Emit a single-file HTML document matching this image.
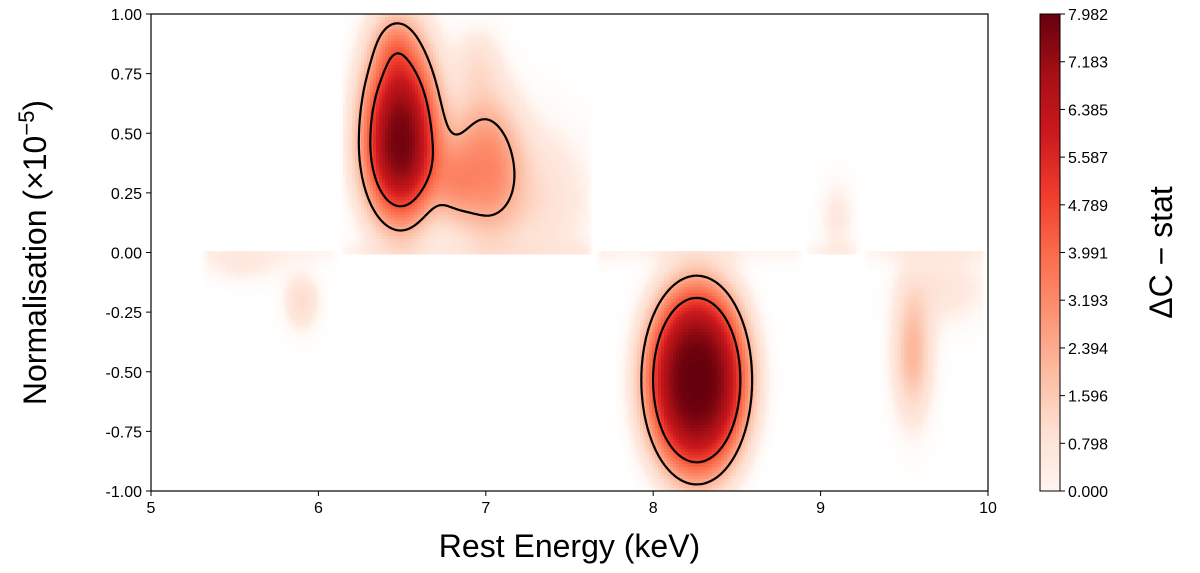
<!DOCTYPE html>
<html><head><meta charset="utf-8">
<style>
body{margin:0;background:#fff;width:1200px;height:573px;overflow:hidden;font-family:"Liberation Sans","DejaVu Sans",sans-serif;}
svg{position:absolute;left:0;top:0;}
</style></head>
<body>
<svg id="ax" width="1200" height="573" xmlns="http://www.w3.org/2000/svg">
<defs><linearGradient id="cbg" x1="0" y1="1" x2="0" y2="0">
<stop offset="0" stop-color="#fff5f0"/><stop offset="0.125" stop-color="#fee0d2"/><stop offset="0.25" stop-color="#fcbba1"/><stop offset="0.375" stop-color="#fc9272"/><stop offset="0.5" stop-color="#fb6a4a"/><stop offset="0.625" stop-color="#ef3b2c"/><stop offset="0.75" stop-color="#cb181d"/><stop offset="0.875" stop-color="#a50f15"/><stop offset="1" stop-color="#67000d"/>
</linearGradient></defs>
<g id="heat"></g>
<g id="cont"></g>
<rect x="1040" y="14" width="20" height="477" fill="url(#cbg)" stroke="#000" stroke-width="1"/>
</svg>
<script>
// ---- data ----
const xTicks=[5,6,7,8,9,10];
const yTicks=[1.00,0.75,0.50,0.25,0.00,-0.25,-0.50,-0.75,-1.00];
const cbTicks=["0.000","0.798","1.596","2.394","3.193","3.991","4.789","5.587","6.385","7.183","7.982"];
const cbMax=7.982;
const contourLevels=[2.3,4.6];
const blobE  =[6.49, 6.99, 7.3, 6.95, 8.26, 9.55, 9.75, 5.9, 5.55, 9.1, 6.45, 6.8];
const blobN  =[0.46,0.37, 0.22, 0.8, -0.535,-0.42,-0.15,-0.2,-0.06,0.15,0.88,0.27];
const blobA  =[7.8, 3.0,  1.0, 0.8, 8.0, 2.1, 0.7, 1.1, 0.5, 0.6, 0.9, 1.3];
const blobSE =[0.23,0.22, 0.3, 0.14, 0.31,0.11,0.25,0.1,0.25,0.1,0.12,0.12];
const blobSNu=[0.43,0.3,  0.3, 0.14, 0.41,0.26,0.15,0.1,0.07,0.15,0.12,0.17];
const blobSNd=[0.34,0.3,  0.3, 0.14, 0.41,0.26,0.15,0.12,0.07,0.15,0.12,0.15];
const blobP  =[1.3, 1.2,  1.0, 1.0, 1.7, 1.0, 1.0, 1.0, 1.0, 1.0, 1.0, 1.0];
const regionStart=[5.3,6.12,7.65,8.9,9.25];
const regionEnd  =[6.12,7.65,8.9,9.25,10.0];
const regionSign =[-1,1,-1,1,-1];

const X0=151,X1=988,Y0=14,Y1=491;
const xs=v=>X0+(v-5)/5*(X1-X0);
const ys=v=>Y0+(1-v)/2*(Y1-Y0);
const NS='http://www.w3.org/2000/svg';
const svg=document.getElementById('ax');

const reds=[[255,245,240],[254,224,210],[252,187,161],[252,146,114],[251,106,74],[239,59,44],[203,24,29],[165,15,21],[103,0,13]];
function cmap(t){t=Math.max(0,Math.min(1,t));const s=t*8,i=Math.min(7,Math.floor(s)),f=s-i;
return reds[i].map((c,k)=>Math.round(c+(reds[i+1][k]-c)*f));}

function field(en,nm){
  let sg=0,edge=1;
  for(let i=0;i<regionStart.length;i++) if(en>=regionStart[i]&&en<regionEnd[i]){
    sg=regionSign[i];const d=Math.min(en-regionStart[i],regionEnd[i]-en);edge=Math.min(1,d/0.04);}
  if(sg===0) return 0;
  if(nm*sg<-0.004) return 0;
  let v=0.3*Math.exp(-Math.pow(nm/0.05,2));
  for(let i=0;i<blobE.length;i++){
    const dx=(en-blobE[i])/blobSE[i];
    const dy=(nm-blobN[i])/(nm>blobN[i]?blobSNu[i]:blobSNd[i]);
    v+=blobA[i]*Math.exp(-Math.pow(dx*dx+dy*dy,blobP[i]));
  }
  return v*edge;
}
function mk(parent,t,a,txt){const el=document.createElementNS(NS,t);for(const k in a)el.setAttribute(k,a[k]);if(txt!==undefined)el.textContent=txt;parent.appendChild(el);return el;}

try{
const heat=document.getElementById('heat');
const CS=3, PW=X1-X0, PH=Y1-Y0;
const nx=Math.ceil(PW/CS), ny=Math.ceil(PH/CS);
let frag=document.createDocumentFragment();
for(let j=0;j<ny;j++){
  let runStart=0,runKey=null;
  const keys=[];
  for(let i=0;i<nx;i++){
    const en=5+((i+0.5)*CS)/PW*5, nm=1-((j+0.5)*CS)/PH*2;
    const v=field(en,nm);
    keys.push(v>0.03?Math.round(v/cbMax*160):-1);
  }
  keys.push(-2);
  for(let i=0;i<=nx;i++){
    if(runKey===null){runKey=keys[i];runStart=i;continue;}
    if(keys[i]!==runKey){
      if(runKey>=0){
        const vv=runKey/160*cbMax;
        let c=cmap(runKey/160);
        if(vv<0.5){const w=vv/0.5;c=c.map(q=>Math.round(255+(q-255)*w));}
        const r=document.createElementNS(NS,'rect');
        r.setAttribute('x',X0+runStart*CS);r.setAttribute('y',Y0+j*CS);
        r.setAttribute('width',Math.min((i-runStart)*CS,PW-runStart*CS)+0.5);
        r.setAttribute('height',Math.min(CS,PH-j*CS)+0.5);
        r.setAttribute('fill',`rgb(${c[0]},${c[1]},${c[2]})`);
        
        
        frag.appendChild(r);
      }
      runKey=keys[i];runStart=i;
    }
  }
}
heat.appendChild(frag);

const G=2, gx=Math.ceil(PW/G)+1, gy=Math.ceil(PH/G)+1;
const F=new Float32Array(gx*gy);
for(let j=0;j<gy;j++)for(let i=0;i<gx;i++){F[j*gx+i]=field(5+(i*G)/PW*5,1-(j*G)/PH*2);}
const cont=document.getElementById('cont');
contourLevels.forEach(L=>{
  let d='';
  for(let j=0;j<gy-1;j++)for(let i=0;i<gx-1;i++){
    const a=F[j*gx+i],b=F[j*gx+i+1],c=F[(j+1)*gx+i+1],e4=F[(j+1)*gx+i];
    const pts=[];
    const px=X0+i*G,py=Y0+j*G;
    if((a>L)!==(b>L))pts.push([px+G*(L-a)/(b-a),py]);
    if((b>L)!==(c>L))pts.push([px+G,py+G*(L-b)/(c-b)]);
    if((e4>L)!==(c>L))pts.push([px+G*(L-e4)/(c-e4),py+G]);
    if((a>L)!==(e4>L))pts.push([px,py+G*(L-a)/(e4-a)]);
    if(pts.length>=2)d+=`M${pts[0][0].toFixed(1)},${pts[0][1].toFixed(1)}L${pts[1][0].toFixed(1)},${pts[1][1].toFixed(1)}`;
    if(pts.length===4)d+=`M${pts[2][0].toFixed(1)},${pts[2][1].toFixed(1)}L${pts[3][0].toFixed(1)},${pts[3][1].toFixed(1)}`;
  }
  const p=mk(cont,'path',{d:d,fill:'none',stroke:'#000','stroke-width':2.2,'stroke-linecap':'round'});
  
  
});
}catch(err){}

let e;
e=mk(svg,'rect',{x:X0,y:Y0,width:X1-X0,height:Y1-Y0,fill:'none',stroke:'#000','stroke-width':1.2});


xTicks.forEach(t=>{
  e=mk(svg,'line',{x1:xs(t),x2:xs(t),y1:Y1,y2:Y1+5,stroke:'#000'});
  
  
  e=mk(svg,'text',{x:xs(t),y:Y1+22,'text-anchor':'middle','font-size':16},String(t));
  
  
});
yTicks.forEach(t=>{
  e=mk(svg,'line',{x1:X0-5,x2:X0,y1:ys(t),y2:ys(t),stroke:'#000'});
  
  
  e=mk(svg,'text',{x:X0-9,y:ys(t)+6,'text-anchor':'end','font-size':16},t.toFixed(2));
  
  
});
e=mk(svg,'text',{x:(X0+X1)/2,y:557,'text-anchor':'middle','font-size':32},'Rest Energy (keV)');


e=mk(svg,'text',{x:0,y:0,'text-anchor':'middle','font-size':32,transform:`translate(46,${(Y0+Y1)/2}) rotate(-90)`},'Normalisation (×10');


mk(e,'tspan',{dy:-12,'font-size':22},'−5');
mk(e,'tspan',{dy:12},')');
cbTicks.forEach(t=>{
  const y=Y1-(parseFloat(t)/cbMax)*(Y1-Y0);
  e=mk(svg,'line',{x1:1060,x2:1065,y1:y,y2:y,stroke:'#000'});
  
  
  e=mk(svg,'text',{x:1068,y:y+6,'font-size':16},t);
  
  
});
e=mk(svg,'text',{x:0,y:0,'text-anchor':'middle','font-size':32,transform:`translate(1172,${(Y0+Y1)/2}) rotate(-90)`},'ΔC − stat');


</script>
</body></html>
